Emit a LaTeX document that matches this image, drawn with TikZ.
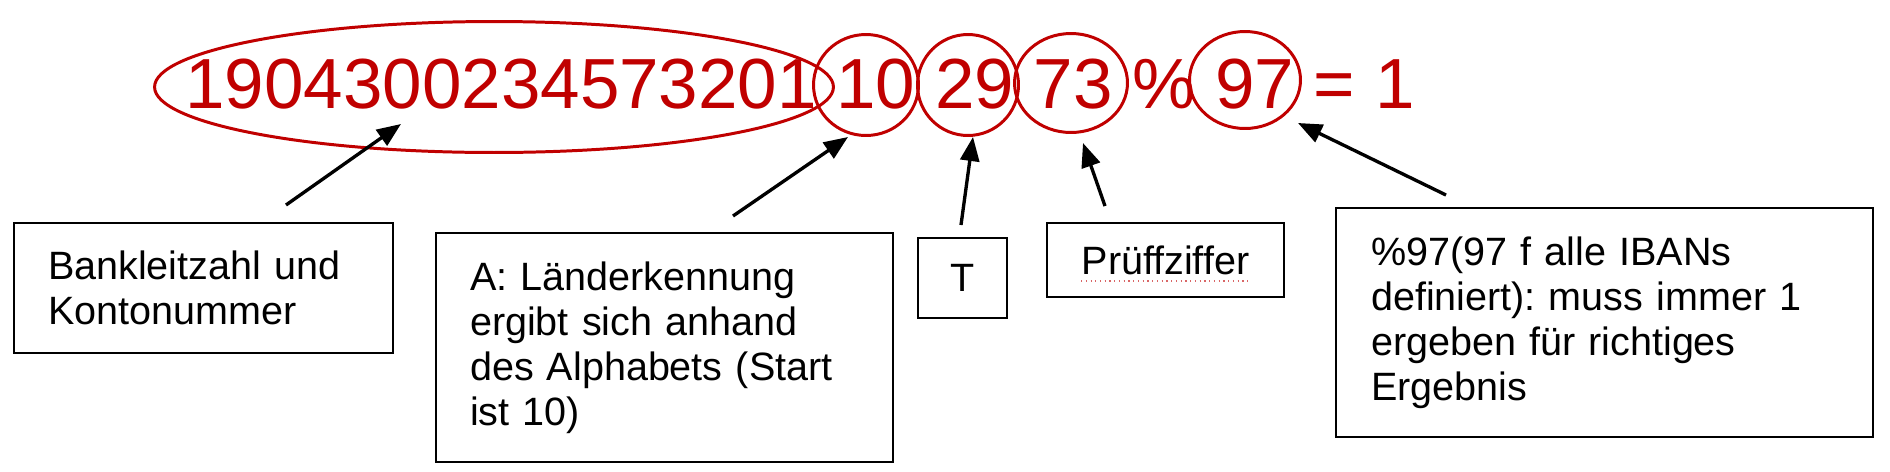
\documentclass[tikz,border=0pt]{standalone}
\usepackage{fontspec}
\setmainfont{Liberation Sans}
\frenchspacing
\usetikzlibrary{arrows.meta,positioning,shapes.geometric}
\definecolor{ibanrot}{HTML}{C00000}
\tikzset{
  zahl/.style={font=\fontsize{40.4pt}{48pt}\selectfont,text=ibanrot,inner sep=0pt},
  ring/.style={draw=ibanrot,line width=1.7pt,ellipse,inner sep=0pt},
  kasten/.style={draw,line width=1.1pt,font=\fontsize{22.5pt}{25.6pt}\selectfont,
    inner xsep=0.68cm,inner ysep=0pt},
  links/.style={kasten,align=left},
  mitte/.style={kasten,align=center,inner xsep=0pt},
  pfeil/.style={-{Triangle[length=0.48cm,width=0.38cm]},line width=1.9pt}
}

\begin{document}
\begin{tikzpicture}[x=0.02cm,y=-0.02cm]
\useasboundingbox (0,0) rectangle (1890,471);
\node[zahl,anchor=base west] (iban) at (185,108) {1904300234573201 10 29 73 \% 97 = 1};
\node[ring,minimum width=13.58cm,minimum height=2.62cm] (konto) at (494,87) {};
\node[ring,minimum width=2.10cm,minimum height=2.02cm] (land) at (866,85) {};
\node[ring,minimum width=2.02cm,minimum height=2.02cm] (tt) at (968,85) {};
\node[ring,minimum width=2.26cm,minimum height=1.98cm] (pruefz) at (1071,83) {};
\node[ring,minimum width=2.22cm,minimum height=1.94cm] (modulo) at (1245,80) {};

\node[links,text width=6.22cm,minimum height=2.6cm] (blz) at (203.5,288) {Bankleitzahl und\\Kontonummer};
\node[links,text width=7.78cm,minimum height=4.58cm] (laender) at (664.5,347.5)
  {A: Länderkennung\\ergibt sich anhand\\des Alphabets (Start\\ist 10)};
\node[mitte,minimum width=1.78cm,minimum height=1.6cm] (tbox) at (962.5,278) {T};
\node[mitte,minimum width=4.74cm,minimum height=1.48cm] (pruef) at (1165.5,260) {Prüffziffer};
\node[links,inner xsep=0.7cm,text width=9.34cm,minimum height=4.58cm] (mod) at (1604.5,322.5)
  {\%97(97 f alle IBANs\\definiert): muss immer 1\\ergeben für richtiges\\Ergebnis};
\draw[ibanrot!60,line width=0.7pt,dotted] (1081,281) -- (1248,281);

\coordinate (a1) at (286,205);  \coordinate (b1) at (401,124);
\coordinate (a2) at (733,216);  \coordinate (b2) at (848,137);
\coordinate (a3) at (961,225);  \coordinate (b3) at (973,137);
\coordinate (a4) at (1105,206); \coordinate (b4) at (1083,143);
\coordinate (a5) at (1446,195); \coordinate (b5) at (1298,123);
\foreach \i in {1,...,5} \draw[pfeil] (a\i)--(b\i);
\end{tikzpicture}
\end{document}
